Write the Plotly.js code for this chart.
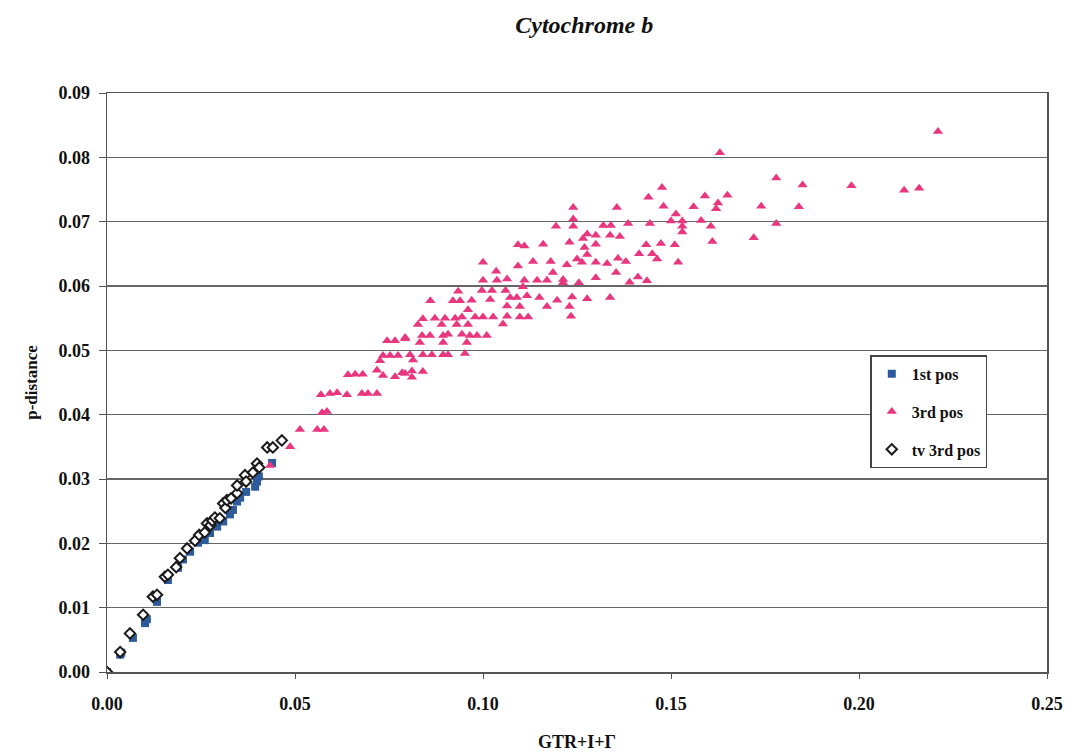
<!DOCTYPE html>
<html>
<head>
<meta charset="utf-8">
<script src="https://cdn.plot.ly/plotly-3.0.1.min.js"></script>
<style>html,body{margin:0;padding:0;background:#fff;}#chart{width:1076px;height:752px;}</style>
</head>
<body>
<div id="chart"></div>
<script>
// 1st codon position
var pos1X = [0, 0.0035, 0.0038, 0.0069, 0.0101, 0.0106, 0.0133, 0.0162, 0.0189, 0.0202, 0.0221, 0.0242, 0.026, 0.0274, 0.029, 0.0293, 0.0309, 0.0327, 0.0335, 0.0346, 0.0354, 0.037, 0.0394, 0.0399, 0.0404, 0.0439];
var pos1Y = [0, 0.0027, 0.0030, 0.0053, 0.0076, 0.0082, 0.0109, 0.0143, 0.0162, 0.0175, 0.0187, 0.0201, 0.0205, 0.0216, 0.0232, 0.0226, 0.0234, 0.0245, 0.0252, 0.0265, 0.0271, 0.028, 0.0288, 0.0296, 0.0304, 0.0325];

// 3rd codon position
var pos3X = [0.221, 0.163, 0.178, 0.185, 0.198, 0.212, 0.216, 0.159, 0.165, 0.1625, 0.162, 0.156, 0.174, 0.184, 0.158, 0.1606, 0.153, 0.178, 0.161, 0.172,
  0.1476, 0.144, 0.124, 0.1356, 0.148, 0.124, 0.124, 0.132, 0.134, 0.1386, 0.1444, 0.1513, 0.150, 0.153, 0.153,
  0.1277, 0.130, 0.1338, 0.1364, 0.1266, 0.123, 0.127, 0.130, 0.1434, 0.1473, 0.151,
  0.1277, 0.1415, 0.145, 0.1463, 0.1519, 0.1223, 0.125, 0.1263, 0.130, 0.133, 0.1359, 0.138,
  0.1354, 0.130, 0.1213, 0.1255, 0.139, 0.1412, 0.1436, 0.1237, 0.1277, 0.1338, 0.123,
  0.1194, 0.1093, 0.111, 0.116, 0.100, 0.1133, 0.118, 0.1093, 0.1035, 0.1186,
  0.100, 0.1037, 0.1064, 0.111, 0.1144, 0.117, 0.1213,
  0.0997, 0.1024, 0.0934, 0.106, 0.1106,
  0.086, 0.092, 0.0939, 0.097, 0.1019, 0.1072, 0.109, 0.1117, 0.115, 0.1197,
  0.096, 0.1064, 0.1098, 0.117, 0.1234,
  0.084, 0.0872, 0.0899, 0.0926, 0.0944, 0.0979, 0.100, 0.1027, 0.1064, 0.1098, 0.112,
  0.0827, 0.089, 0.093, 0.096, 0.1053,
  0.0793, 0.0838, 0.0859, 0.0894, 0.0907, 0.0944, 0.0965, 0.0984, 0.101,
  0.0832, 0.0894, 0.0957,
  0.0806, 0.084, 0.0864, 0.0894, 0.0907, 0.0952, 0.0814, 0.0785, 0.0811, 0.084,
  0.0745, 0.0766, 0.0793, 0.0734, 0.0753, 0.0774, 0.0726,
  0.0641, 0.066, 0.068, 0.0718, 0.0734, 0.0766, 0.0793, 0.0811,
  0.0569, 0.0593, 0.0612, 0.0638, 0.0678, 0.0694, 0.0718,
  0.0572, 0.0585, 0.0513, 0.0559, 0.0577, 0.0487, 0.0434];
var pos3Y = [0.084, 0.0807, 0.0768, 0.0757, 0.0756, 0.0749, 0.0752, 0.0740, 0.0741, 0.0729, 0.0720, 0.0723, 0.0724, 0.0723, 0.0702, 0.0693, 0.0693, 0.0697, 0.0669, 0.0675,
  0.0753, 0.0738, 0.0722, 0.0722, 0.0724, 0.0704, 0.0693, 0.0694, 0.0694, 0.0697, 0.0697, 0.0712, 0.0701, 0.0701, 0.0684,
  0.0681, 0.0679, 0.0679, 0.0677, 0.0674, 0.0668, 0.0660, 0.0665, 0.0664, 0.0666, 0.0664,
  0.0649, 0.0650, 0.0650, 0.0642, 0.0637, 0.0633, 0.0642, 0.0637, 0.0637, 0.0635, 0.0643, 0.0638,
  0.0621, 0.0613, 0.0605, 0.0605, 0.0606, 0.0614, 0.0608, 0.0583, 0.0580, 0.0582, 0.0568,
  0.0693, 0.0664, 0.0662, 0.0665, 0.0637, 0.0638, 0.0638, 0.0631, 0.0623, 0.0621,
  0.0609, 0.0609, 0.0611, 0.0609, 0.0609, 0.0609, 0.0610,
  0.0593, 0.0593, 0.0592, 0.0593, 0.0599,
  0.0577, 0.0577, 0.0577, 0.0578, 0.0579, 0.0582, 0.0582, 0.0585, 0.0582, 0.0578,
  0.0563, 0.0569, 0.0568, 0.0568, 0.0553,
  0.0549, 0.0550, 0.0550, 0.0550, 0.0552, 0.0552, 0.0552, 0.0552, 0.0553, 0.0552, 0.0552,
  0.0540, 0.0540, 0.0540, 0.0540, 0.0541,
  0.0520, 0.0523, 0.0523, 0.0523, 0.0525, 0.0525, 0.0523, 0.0523, 0.0523,
  0.0512, 0.0512, 0.0512,
  0.0493, 0.0493, 0.0493, 0.0493, 0.0493, 0.0495, 0.0485, 0.0465, 0.0468, 0.0467,
  0.0515, 0.0515, 0.0518, 0.0492, 0.0492, 0.0492, 0.0484,
  0.0462, 0.0463, 0.0463, 0.0469, 0.0461, 0.0459, 0.0464, 0.0458,
  0.0431, 0.0433, 0.0434, 0.0431, 0.0433, 0.0433, 0.0433,
  0.0403, 0.0405, 0.0377, 0.0377, 0.0377, 0.0350, 0.0321];

// transversions at 3rd position
var tv3X = [0, 0.0035, 0.0061, 0.0096, 0.0122, 0.0133, 0.0154, 0.0162, 0.0184, 0.0194, 0.0213, 0.0234, 0.0245, 0.026, 0.0266, 0.0275, 0.028, 0.0287, 0.030, 0.0309, 0.0315, 0.0319, 0.033, 0.0346, 0.0346, 0.0367, 0.037, 0.0388, 0.0399, 0.0405, 0.0426, 0.0441, 0.0465];
var tv3Y = [0, 0.0031, 0.0060, 0.0089, 0.0117, 0.0120, 0.0148, 0.0151, 0.0163, 0.0177, 0.0192, 0.0204, 0.0213, 0.0217, 0.0231, 0.0228, 0.0235, 0.0240, 0.0239, 0.0262, 0.0255, 0.0267, 0.0270, 0.0278, 0.0290, 0.0306, 0.0296, 0.0310, 0.0324, 0.0318, 0.0349, 0.0349, 0.0360];

var xTicks = [0, 0.05, 0.10, 0.15, 0.20, 0.25];
var xTickText = ['0.00', '0.05', '0.10', '0.15', '0.20', '0.25'];
var yTicks = [0, 0.01, 0.02, 0.03, 0.04, 0.05, 0.06, 0.07, 0.08, 0.09];
var yTickText = ['0.00', '0.01', '0.02', '0.03', '0.04', '0.05', '0.06', '0.07', '0.08', '0.09'];

var serif = 'Liberation Serif, Times New Roman, serif';

var traces = [
  {x: pos1X, y: pos1Y, mode: 'markers', type: 'scatter', name: '1st pos', legendgroup: 'a',
   marker: {symbol: 'square', size: 8, color: '#2d5b9b', line: {width: 0}}},
  {x: pos3X, y: pos3Y, mode: 'markers', type: 'scatter', name: '3rd pos', legendgroup: 'b',
   marker: {symbol: 'triangle-up', size: 9, color: '#e8367f', line: {width: 0}}},
  {x: tv3X, y: tv3Y, mode: 'markers', type: 'scatter', name: 'tv 3rd pos', legendgroup: 'c',
   marker: {symbol: 'diamond', size: 8, color: '#ffffff', line: {width: 2, color: '#1a1a1a'}}}
];

var layout = {
  width: 1076, height: 752,
  paper_bgcolor: '#ffffff', plot_bgcolor: '#ffffff',
  margin: {l: 107, r: 29, t: 93, b: 80},
  showlegend: true,
  title: {text: 'Cytochrome b', x: 0.543, xanchor: 'center', y: 0.967, yanchor: 'middle',
          font: {family: serif, size: 24, color: '#111', weight: 'bold', style: 'italic'}},
  xaxis: {
    range: [0, 0.25], tickvals: xTicks, ticktext: xTickText,
    showgrid: false, zeroline: false,
    showline: true, linecolor: '#555', linewidth: 1.5, mirror: true,
    ticks: 'outside', ticklen: 5, tickcolor: '#555', ticklabelstandoff: 10,
    tickfont: {family: serif, size: 18, color: '#111', weight: 'bold'},
    title: {text: 'GTR+I+Γ', standoff: 26, font: {family: serif, size: 18, color: '#111', weight: 'bold'}}
  },
  yaxis: {
    range: [0, 0.09], tickvals: yTicks, ticktext: yTickText,
    showgrid: true, gridcolor: '#666666', gridwidth: 1.6, zeroline: false,
    showline: true, linecolor: '#555', linewidth: 1.5, mirror: true,
    ticks: 'outside', ticklen: 7, tickcolor: '#555', ticklabelstandoff: 5,
    tickfont: {family: serif, size: 18, color: '#111', weight: 'bold'},
    title: {text: 'p-distance', standoff: 16, font: {family: serif, size: 17, color: '#111', weight: 'bold'}}
  },
  legend: {
    x: 0.812, y: 0.547, xanchor: 'left', yanchor: 'top',
    bgcolor: '#ffffff', bordercolor: '#444', borderwidth: 1.5,
    tracegroupgap: 14,
    font: {family: serif, size: 16, color: '#111', weight: 'bold'},
    itemwidth: 30
  }
};

Plotly.newPlot('chart', traces, layout, {displayModeBar: false, staticPlot: true});
</script>
</body>
</html>
